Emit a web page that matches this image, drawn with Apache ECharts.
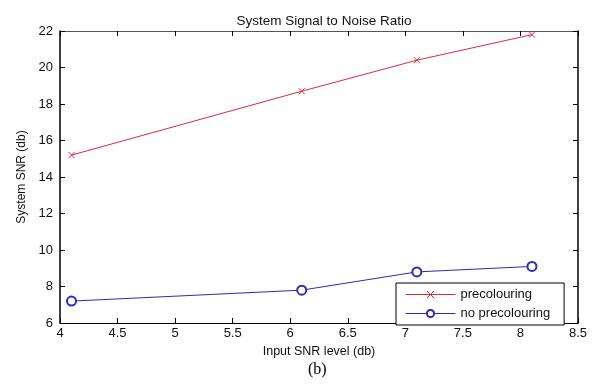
<!DOCTYPE html>
<html>
<head>
<meta charset="utf-8">
<script src="https://cdn.jsdelivr.net/npm/echarts@6/dist/echarts.min.js"></script>
<style>
  html, body { margin: 0; padding: 0; background: #fff; }
  #chart { width: 597px; height: 387px; }
</style>
</head>
<body>
<div id="chart"></div>
<script>
// values
const inputSnr = [4.1, 6.1, 7.1, 8.1]
const precolouring = [15.2, 18.7, 20.4, 21.8]
const noPrecolouring = [7.2, 7.8, 8.8, 9.1]

const RED = '#dd2a3a'
const BLUE = '#2b2bb8'
const FONT = '"Liberation Sans", Arial, sans-serif'

const toPoints = ys => inputSnr.map((x, i) => [x, ys[i]])

const crossPath = 'path://M0,0L10,10M10,0L0,10'

const chart = echarts.init(document.getElementById('chart'), null, { renderer: 'canvas' })

const tickCommon = { show: true, inside: true, length: 5, lineStyle: { color: '#000' } }

chart.setOption({
  animation: false,
  backgroundColor: '#fff',
  textStyle: { fontFamily: FONT },
  title: {
    text: 'System Signal to Noise Ratio',
    left: 319,
    textAlign: 'center',
    top: 9,
    textStyle: { fontFamily: FONT, fontSize: 13.5, fontWeight: 'normal', color: '#111' },
  },
  grid: { left: 60, right: 19, top: 31, bottom: 64 },
  xAxis: [
    {
      type: 'value',
      min: 4,
      max: 8.5,
      interval: 0.5,
      name: 'Input SNR level (db)',
      nameLocation: 'middle',
      nameGap: 20,
      nameTextStyle: { fontFamily: FONT, fontSize: 12.5, color: '#111' },
      axisLine: { show: true, lineStyle: { color: '#000', width: 1 } },
      axisTick: tickCommon,
      axisLabel: { color: '#111', fontSize: 13, margin: 4, fontFamily: FONT },
      splitLine: { show: false },
    },
    {
      type: 'value',
      position: 'top',
      min: 4,
      max: 8.5,
      interval: 0.5,
      axisLine: { show: true, lineStyle: { color: '#555', width: 1 } },
      axisTick: tickCommon,
      axisLabel: { show: false },
      splitLine: { show: false },
    },
  ],
  yAxis: [
    {
      type: 'value',
      min: 6,
      max: 22,
      interval: 2,
      name: 'System SNR (db)',
      nameLocation: 'middle',
      nameGap: 30,
      nameTextStyle: { fontFamily: FONT, fontSize: 12, color: '#111' },
      axisLine: { show: true, lineStyle: { color: '#000', width: 1.5 } },
      axisTick: tickCommon,
      axisLabel: { color: '#111', fontSize: 13, margin: 7, fontFamily: FONT },
      splitLine: { show: false },
    },
    {
      type: 'value',
      position: 'right',
      min: 6,
      max: 22,
      interval: 2,
      axisLine: { show: true, lineStyle: { color: '#000', width: 1.5 } },
      axisTick: tickCommon,
      axisLabel: { show: false },
      splitLine: { show: false },
    },
  ],
  legend: {
    orient: 'vertical',
    left: 396,
    top: 283,
    width: 169,
    padding: [5, 14, 5, 9],
    itemWidth: 50,
    itemHeight: 9,
    itemGap: 6,
    backgroundColor: '#fff',
    borderColor: '#000',
    borderWidth: 1,
    borderRadius: 0,
    textStyle: { fontFamily: FONT, fontSize: 13, color: '#111' },
    data: [
      {
        name: 'precolouring',
        lineStyle: { color: RED, width: 1 },
        itemStyle: { color: RED, borderColor: RED, borderWidth: 1 },
      },
      {
        name: 'no precolouring',
        lineStyle: { color: BLUE, width: 1 },
        itemStyle: { color: BLUE, borderColor: BLUE, borderWidth: 1 },
      },
    ],
  },
  series: [
    {
      name: 'precolouring',
      type: 'line',
      data: toPoints(precolouring),
      symbol: crossPath,
      symbolSize: 6,
      showAllSymbol: true,
      lineStyle: { color: RED, width: 1 },
      itemStyle: { color: RED, borderColor: RED, borderWidth: 1 },
    },
    {
      name: 'no precolouring',
      type: 'line',
      data: toPoints(noPrecolouring),
      symbol: 'emptyCircle',
      symbolSize: 9,
      showAllSymbol: true,
      lineStyle: { color: BLUE, width: 1 },
      itemStyle: { color: BLUE, borderColor: BLUE, borderWidth: 1 },
    },
  ],
  graphic: [
    {
      type: 'text',
      left: 308,
      top: 362,
      style: { text: '(b)', font: '16px "Liberation Serif", "Times New Roman", serif', fill: '#000' },
    },
  ],
})
</script>
</body>
</html>
